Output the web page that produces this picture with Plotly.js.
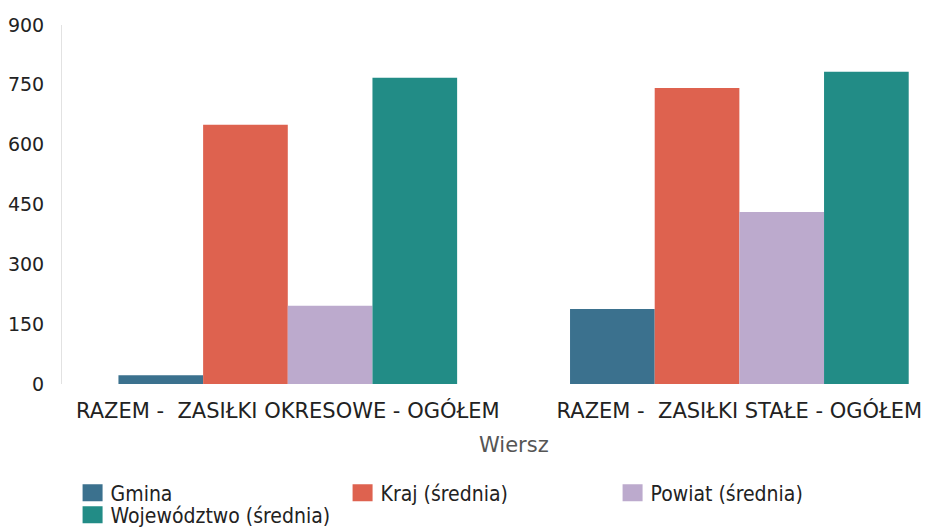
<!DOCTYPE html>
<html>
<head>
<meta charset="utf-8">
<script src="https://cdn.plot.ly/plotly-3.0.1.min.js"></script>
<style>
  html, body { margin: 0; padding: 0; background: #fff; }
  #chart { width: 928px; height: 529px; }
</style>
</head>
<body>
<div id="chart"></div>
<script>
let categories = ['RAZEM -  ZASIŁKI OKRESOWE - OGÓŁEM', 'RAZEM -  ZASIŁKI STAŁE - OGÓŁEM'];

let seriesNames = ['Gmina', 'Kraj (średnia)', 'Powiat (średnia)', 'Województwo (średnia)'];
let gmina = [22, 188];
let kraj = [650, 742];
let powiat = [196, 431];
let wojewodztwo = [768, 783];

let yTicks = [0, 150, 300, 450, 600, 750, 900];

let colors = ['#3b718e', '#de624f', '#bcaacd', '#228c86'];
// last series sits on its own legend row
let legendIds = ['legend', 'legend', 'legend', 'legend2'];

let values = [gmina, kraj, powiat, wojewodztwo];

let data = [];
for (let i = 0; i < seriesNames.length; i++) {
    data.push({
        x: categories,
        y: values[i],
        name: seriesNames[i],
        type: 'bar',
        legend: legendIds[i],
        marker: { color: colors[i] },
        hoverinfo: 'y+name'
    });
}

let legendFont = { family: 'DejaVu Sans Condensed, DejaVu Sans, sans-serif', size: 21, color: '#222' };

let layout = {
    width: 928,
    height: 529,
    barmode: 'group',
    bargap: 0.25,
    bargroupgap: 0,
    margin: { l: 62, r: 8, t: 25, b: 145, autoexpand: false },
    paper_bgcolor: '#fff',
    plot_bgcolor: '#fff',
    font: { family: 'DejaVu Sans, sans-serif', color: '#222', size: 18 },
    xaxis: {
        range: [-0.5, 1.4],
        showgrid: false,
        zeroline: false,
        showline: false,
        ticks: '',
        ticklabelstandoff: 12,
        tickfont: { size: 21, color: '#222' }
    },
    yaxis: {
        range: [0, 900],
        tickvals: yTicks,
        showgrid: false,
        zeroline: false,
        showline: true,
        linecolor: '#e2e2e2',
        linewidth: 1,
        ticks: '',
        ticklabelstandoff: 13,
        tickfont: { size: 19, color: '#222' }
    },
    annotations: [{
        text: 'Wiersz',
        xref: 'x',
        x: 0.5,
        yref: 'paper',
        y: -0.17,
        yanchor: 'middle',
        showarrow: false,
        font: { size: 21, color: '#555' }
    }],
    showlegend: true,
    legend: {
        orientation: 'h',
        x: 0.01,
        xanchor: 'left',
        y: -0.3036,
        yanchor: 'middle',
        entrywidth: 225,
        entrywidthmode: 'pixels',
        bgcolor: 'rgba(0,0,0,0)',
        font: legendFont
    },
    legend2: {
        orientation: 'h',
        x: 0.01,
        xanchor: 'left',
        y: -0.365,
        yanchor: 'middle',
        bgcolor: 'rgba(0,0,0,0)',
        font: legendFont
    }
};

let config = { responsive: false, displayModeBar: false };

Plotly.newPlot('chart', data, layout, config).then(function () {
    // larger swatches, with a small gap before their labels
    document.querySelectorAll('.legendpoints path').forEach(function (p) {
        p.setAttribute('d', 'M12,8.5H-8V-8.5H12Z');
    });
});
</script>
</body>
</html>
